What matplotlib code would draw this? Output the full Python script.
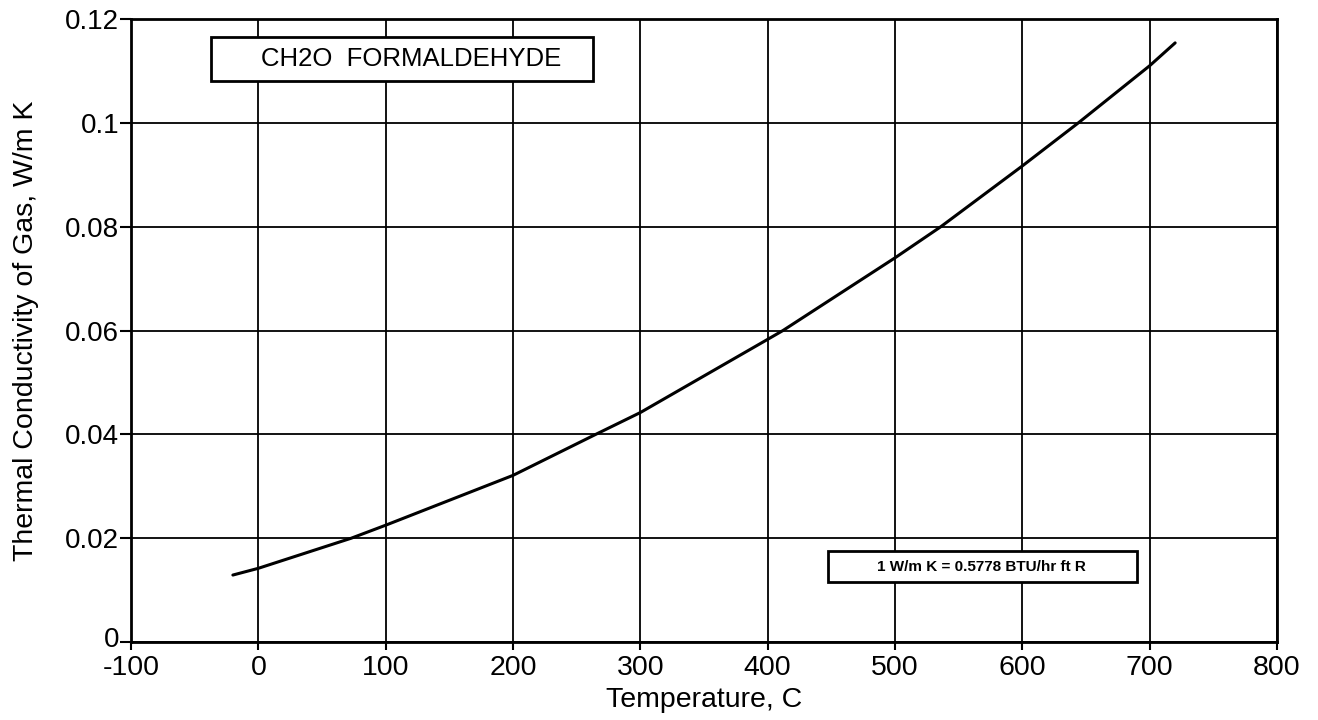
import matplotlib
matplotlib.use("Agg")
import matplotlib.pyplot as plt
import matplotlib.transforms as mtransforms
from matplotlib.patches import Rectangle

plt.rcParams['font.family'] = ['Liberation Sans', 'DejaVu Sans']

# Data
temperature_c = [-20, 0, 73, 100, 200, 265, 300, 400, 412, 500, 536, 600, 644, 700, 720]
conductivity = [0.0129, 0.0142, 0.0200, 0.0225, 0.0321, 0.0400, 0.0442, 0.0583, 0.0600,
                0.0740, 0.0800, 0.0917, 0.1000, 0.1110, 0.1154]

x_ticks = [-100, 0, 100, 200, 300, 400, 500, 600, 700, 800]
x_tick_labels = ['-100', '0', '100', '200', '300', '400', '500', '600', '700', '800']
y_ticks = [0, 0.02, 0.04, 0.06, 0.08, 0.1, 0.12]
y_tick_labels = ['0', '0.02', '0.04', '0.06', '0.08', '0.1', '0.12']

title_text = 'CH2O  FORMALDEHYDE'
conv_text = '1 W/m K = 0.5778 BTU/hr ft R'
x_label = 'Temperature, C'
y_label = 'Thermal Conductivity of Gas, W/m K'

fig = plt.figure(figsize=(13.18, 7.2), dpi=100)
ax = fig.add_axes([0.0994, 0.1083, 0.8695, 0.8653])

ax.plot(temperature_c, conductivity, color='black', linewidth=2.2, solid_capstyle='round')

ax.set_xlim(-100, 800)
ax.set_ylim(0, 0.12)
ax.set_xticks(x_ticks)
ax.set_xticklabels(x_tick_labels)
ax.set_yticks(y_ticks)
ax.set_yticklabels(y_tick_labels)
ax.grid(True, color='black', linewidth=1.3)
ax.set_axisbelow(True)
for s in ax.spines.values():
    s.set_linewidth(2)
ax.tick_params(axis='x', direction='out', length=6, width=1.5, labelsize=20.5, pad=3.5)
ax.tick_params(axis='y', direction='out', length=8, width=1.5, labelsize=20, pad=0.5)
ax.set_xlabel(x_label, fontsize=20.5, labelpad=4)
ax.set_ylabel(y_label, fontsize=20.5, labelpad=19)

# nudge the bottom y tick label up slightly so it does not collide with "-100"
lbl0 = ax.get_yticklabels()[0]
lbl0.set_transform(lbl0.get_transform() + mtransforms.ScaledTranslation(0, 5 / 100, fig.dpi_scale_trans))

# Annotation boxes
ax.add_patch(Rectangle((0.070, 0.900), 0.3335, 0.071, transform=ax.transAxes,
                       facecolor='white', edgecolor='black', linewidth=2, zorder=5))
ax.text(0.2445, 0.9355, title_text, transform=ax.transAxes, ha='center', va='center',
        fontsize=18.5, zorder=6)
ax.add_patch(Rectangle((0.608, 0.096), 0.270, 0.050, transform=ax.transAxes,
                       facecolor='white', edgecolor='black', linewidth=2, zorder=5))
ax.text(0.742, 0.121, conv_text, transform=ax.transAxes, ha='center', va='center',
        fontsize=11, fontweight='bold', zorder=6)

fig.savefig('out.png', dpi=100)
